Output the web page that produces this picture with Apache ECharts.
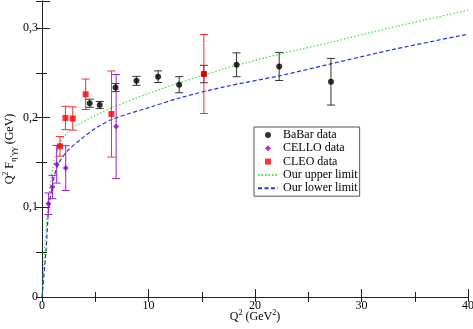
<!DOCTYPE html>
<html>
<head>
<meta charset="utf-8">
<script src="https://cdn.jsdelivr.net/npm/echarts@6/dist/echarts.min.js"></script>
<style>
  html, body { margin: 0; padding: 0; background: #fff; }
  #chart { width: 473px; height: 329px; }
</style>
</head>
<body>
<div id="chart"></div>
<script>
// BaBar
var babarX = [4.48, 5.42, 6.9, 8.87, 10.9, 12.88, 15.2, 18.27, 22.27, 27.13];
var babarY = [0.216, 0.214, 0.2335, 0.241, 0.2456, 0.2367, 0.2486, 0.2589, 0.257, 0.240];
var babarErr = [0.0045, 0.004, 0.0045, 0.005, 0.0065, 0.009, 0.0097, 0.0133, 0.0157, 0.026];
// CELLO
var celloX = [0.6, 0.98, 1.38, 2.23, 6.96];
var celloY = [0.104, 0.1226, 0.148, 0.1437, 0.19];
var celloErr = [0.012, 0.013, 0.021, 0.025, 0.058];
// CLEO
var cleoX = [1.69, 2.2, 2.89, 4.1, 6.52, 15.2];
var cleoY = [0.168, 0.1996, 0.199, 0.226, 0.204, 0.2486];
var cleoErr = [0.011, 0.013, 0.013, 0.017, 0.048, 0.044];
// curves
var upX = [0, 0.3, 0.7, 1.16, 1.8, 2.6, 3.54, 5.1, 6.67, 9.8, 12.94, 17, 22.34, 27.04, 33, 40];
var upY = [0, 0.06, 0.119, 0.152, 0.174, 0.186, 0.193, 0.203, 0.2115, 0.226, 0.239, 0.254, 0.2708, 0.2837, 0.301, 0.3197];
var loX = [0, 0.38, 0.63, 1.0, 1.48, 2.4, 3.67, 5, 6.67, 10.12, 12.94, 17, 22.34, 27.04, 33, 40];
var loY = [0, 0.052, 0.098, 0.126, 0.147, 0.163, 0.176, 0.188, 0.1985, 0.2115, 0.222, 0.234, 0.2467, 0.2597, 0.276, 0.293];

var fontFamily = "Liberation Serif";
var axisColor = "#222";

function pairs(xs, ys) {
    return xs.map(function(x, i){ return [x, ys[i]]; });
}
function errs(xs, ys, es) {
    return xs.map(function(x, i){ return [x, ys[i] - es[i], ys[i] + es[i]]; });
}
function errSeries(name, data, color) {
    return {
        name: name,
        type: 'custom',
        z: 2,
        data: data,
        renderItem: function(params, api){
            var lo = api.coord([api.value(0), api.value(1)]);
            var hi = api.coord([api.value(0), api.value(2)]);
            var w = 4;
            var st = { stroke: color, lineWidth: 1 };
            return {
                type: 'group',
                children: [
                    { type: 'line', shape: { x1: lo[0], y1: lo[1], x2: hi[0], y2: hi[1] }, style: st },
                    { type: 'line', shape: { x1: lo[0] - w, y1: lo[1], x2: lo[0] + w, y2: lo[1] }, style: st },
                    { type: 'line', shape: { x1: hi[0] - w, y1: hi[1], x2: hi[0] + w, y2: hi[1] }, style: st }
                ]
            };
        }
    };
}

var myChart = echarts.init(document.getElementById('chart'));

var option = {
    animation: false,
    textStyle: { fontFamily: fontFamily },
    grid: { left: 42, right: 5, top: 1, bottom: 32, show: false, containLabel: false, outerBoundsMode: 'none' },
    legend: {
        orient: 'vertical',
        left: 254,
        top: 127,
        padding: [2, 2, 2, 3],
        itemGap: 1.3,
        itemWidth: 20,
        itemHeight: 6,
        borderColor: '#555',
        borderWidth: 1,
        textStyle: { fontFamily: fontFamily, fontSize: 12, color: '#000', lineHeight: 12 },
        data: [
            { name: 'BaBar data', icon: 'circle' },
            { name: 'CELLO data', icon: 'path://M0,-1L1,0L0,1L-1,0Z' },
            { name: 'CLEO data', icon: 'path://M0,0L1,0L1,1L0,1Z' },
            { name: 'Our upper limit', itemStyle: { opacity: 0 } },
            { name: 'Our lower limit', itemStyle: { opacity: 0 } }
        ]
    },
    xAxis: [{
        type: 'value',
        min: 0, max: 40, interval: 10,
        name: '{n|Q}{s|2}{n| (GeV}{s|2}{n|)}',
        nameLocation: 'middle',
        nameGap: 12,
        nameMoveOverlap: false,
        nameTextStyle: {
            rich: {
                n: { fontFamily: fontFamily, fontSize: 12, color: '#000', lineHeight: 14, verticalAlign: 'bottom' },
                s: { fontFamily: fontFamily, fontSize: 8, color: '#000', lineHeight: 14, verticalAlign: 'top' }
            }
        },
        axisLine: { lineStyle: { color: axisColor } },
        axisTick: { inside: true, length: 8, lineStyle: { color: axisColor } },
        minorTick: { show: true, splitNumber: 2, length: 5, lineStyle: { color: axisColor } },
        axisLabel: { fontFamily: fontFamily, fontSize: 12, color: '#000', margin: 3 },
        splitLine: { show: false }
    }, {
        type: 'value',
        position: 'top',
        min: 0, max: 40, interval: 5,
        axisLine: { show: true, lineStyle: { color: axisColor } },
        axisTick: { inside: true, length: 5, lineStyle: { color: axisColor } },
        axisLabel: { show: false },
        splitLine: { show: false }
    }],
    yAxis: [{
        type: 'value',
        min: 0, max: 0.33, interval: 0.1,
        name: '{n|Q}{s|2}{n| F}{b|η′γγ}{n| (GeV)}',
        nameLocation: 'middle',
        nameGap: 24,
        nameMoveOverlap: false,
        nameTextStyle: {
            rich: {
                n: { fontFamily: fontFamily, fontSize: 12, color: '#000', lineHeight: 16, verticalAlign: 'middle' },
                s: { fontFamily: fontFamily, fontSize: 8, color: '#000', lineHeight: 16, verticalAlign: 'top' },
                b: { fontFamily: fontFamily, fontSize: 9, color: '#000', lineHeight: 16, verticalAlign: 'bottom' }
            }
        },
        axisLine: { show: true, lineStyle: { color: axisColor } },
        axisTick: { inside: true, length: 8, lineStyle: { color: axisColor } },
        minorTick: { show: true, splitNumber: 2, length: 5, lineStyle: { color: axisColor } },
        axisLabel: {
            fontFamily: fontFamily, fontSize: 12, color: '#000', margin: 4,
            showMaxLabel: false,
            formatter: function(v){ return v === 0 ? '0' : v.toFixed(1).replace('.', ','); }
        },
        splitLine: { show: false }
    }, {
        type: 'value',
        position: 'right',
        min: 0, max: 0.33, interval: 0.05,
        axisLine: { show: true, lineStyle: { color: axisColor } },
        axisTick: { inside: true, length: 6, lineStyle: { color: axisColor } },
        axisLabel: { show: false },
        splitLine: { show: false }
    }],
    series: [
        {
            name: 'Our upper limit',
            type: 'line',
            data: pairs(upX, upY),
            smooth: 0.3,
            symbol: 'none',
            z: 1,
            lineStyle: { color: '#44dd44', width: 1.2, type: [1.5, 2] },
            itemStyle: { color: '#44dd44' }
        },
        {
            name: 'Our lower limit',
            type: 'line',
            data: pairs(loX, loY),
            smooth: 0.3,
            symbol: 'none',
            z: 1,
            lineStyle: { color: '#2233ee', width: 1.2, type: [4, 2.5] },
            itemStyle: { color: '#2233ee' }
        },
        errSeries('BaBar err', errs(babarX, babarY, babarErr), '#333'),
        errSeries('CELLO err', errs(celloX, celloY, celloErr), '#9a1fd0'),
        errSeries('CLEO err', errs(cleoX, cleoY, cleoErr), '#f03030'),
        {
            name: 'BaBar data',
            type: 'scatter',
            data: pairs(babarX, babarY),
            symbol: 'circle',
            symbolSize: 6,
            z: 3,
            itemStyle: { color: '#000' }
        },
        {
            name: 'CELLO data',
            type: 'scatter',
            data: pairs(celloX, celloY),
            symbol: 'diamond',
            symbolSize: 6,
            z: 3,
            itemStyle: { color: '#9400d3' }
        },
        {
            name: 'CLEO data',
            type: 'scatter',
            data: pairs(cleoX, cleoY),
            symbol: 'rect',
            symbolSize: 6,
            z: 4,
            itemStyle: { color: '#ff0000' }
        }
    ]
};
myChart.setOption(option);
</script>
</body>
</html>
